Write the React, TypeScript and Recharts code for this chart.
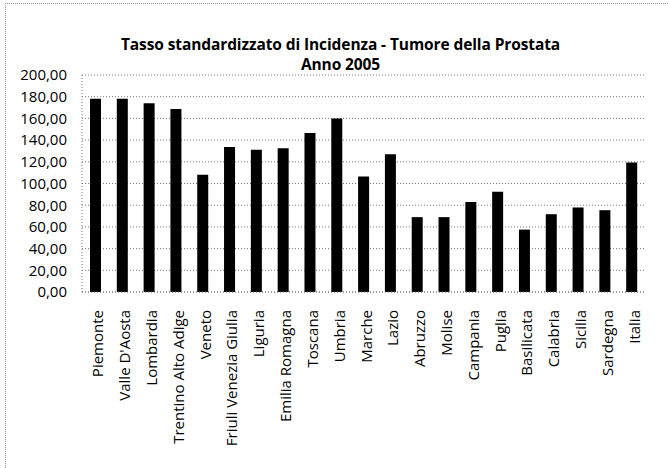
import React from "react";
import { Bar, BarChart, CartesianGrid, XAxis, YAxis } from "recharts";

const regions = [
  "Piemonte",
  "Valle D'Aosta",
  "Lombardia",
  "Trentino Alto Adige",
  "Veneto",
  "Friuli Venezia Giulia",
  "Liguria",
  "Emilia Romagna",
  "Toscana",
  "Umbria",
  "Marche",
  "Lazio",
  "Abruzzo",
  "Molise",
  "Campania",
  "Puglia",
  "Basilicata",
  "Calabria",
  "Sicilia",
  "Sardegna",
  "Italia",
];

const tasso = [
  178, 178, 174, 168.7, 108, 133.6, 131, 132.6, 146.5, 160, 106.5, 127, 69, 69, 83, 92.3, 57.5,
  71.7, 77.9, 75.4, 119.4,
];

const yTicks = [0, 20, 40, 60, 80, 100, 120, 140, 160, 180, 200];

const data = regions.map((name, i) => ({ name, value: tasso[i] }));

const fmt = (v: number) => v.toFixed(2).replace(".", ",");

export default function App() {
  return (
    <div
      style={{
        position: "absolute",
        left: 0,
        top: 0,
        width: 669,
        height: 468,
        background: "#fff",
        fontFamily: "'Open Sans', sans-serif",
      }}
    >
      <div
        style={{
          position: "absolute",
          left: 5,
          top: 3,
          width: 670,
          height: 470,
          borderLeft: "1px dotted #999",
          borderTop: "1px dotted #999",
        }}
      />
      <div
        style={{
          position: "absolute",
          left: 0,
          width: 669,
          top: 34,
          textAlign: "center",
          fontWeight: 700,
          fontSize: 15.5,
          lineHeight: "20px",
          letterSpacing: -0.1,
          color: "#000",
        }}
      >
        <div style={{ paddingLeft: 12 }}>Tasso standardizzato di Incidenza - Tumore della Prostata</div>
        <div style={{ paddingLeft: 12 }}>Anno 2005</div>
      </div>
      <div style={{ position: "absolute", left: 0, top: 0 }}>
        <BarChart
          width={669}
          height={468}
          data={data}
          margin={{ top: 75, right: 24, bottom: 0, left: 0 }}
          barSize={11}
        >
          <CartesianGrid vertical={false} stroke="#777" strokeDasharray="1 2" />
          <XAxis
            dataKey="name"
            interval={0}
            height={176}
            axisLine={{ stroke: "#777", strokeDasharray: "1 2" }}
            tickLine={false}
            tickMargin={0}
            tickSize={0}
            tick={(props: any) => {
              const { x, y, payload } = props;
              const ty = y + 18;
              const tx = x + 2;
              return (
                <text
                  x={tx}
                  y={ty}
                  transform={`rotate(-90, ${tx}, ${ty})`}
                  textAnchor="end"
                  dominantBaseline="central"
                  fontSize={15}
                  fontFamily="'Open Sans', sans-serif"
                  fill="#000"
                >
                  {payload.value}
                </text>
              );
            }}
          />
          <YAxis
            width={82}
            domain={[0, 200]}
            ticks={yTicks}
            interval={0}
            tickFormatter={fmt}
            axisLine={{ stroke: "#777", strokeDasharray: "1 2" }}
            tickLine={false}
            tickSize={0}
            tickMargin={15}
            tick={{ fill: "#000", fontSize: 15, fontFamily: "'Open Sans', sans-serif" }}
          />
          <Bar dataKey="value" fill="#000" isAnimationActive={false} />
        </BarChart>
      </div>
    </div>
  );
}
